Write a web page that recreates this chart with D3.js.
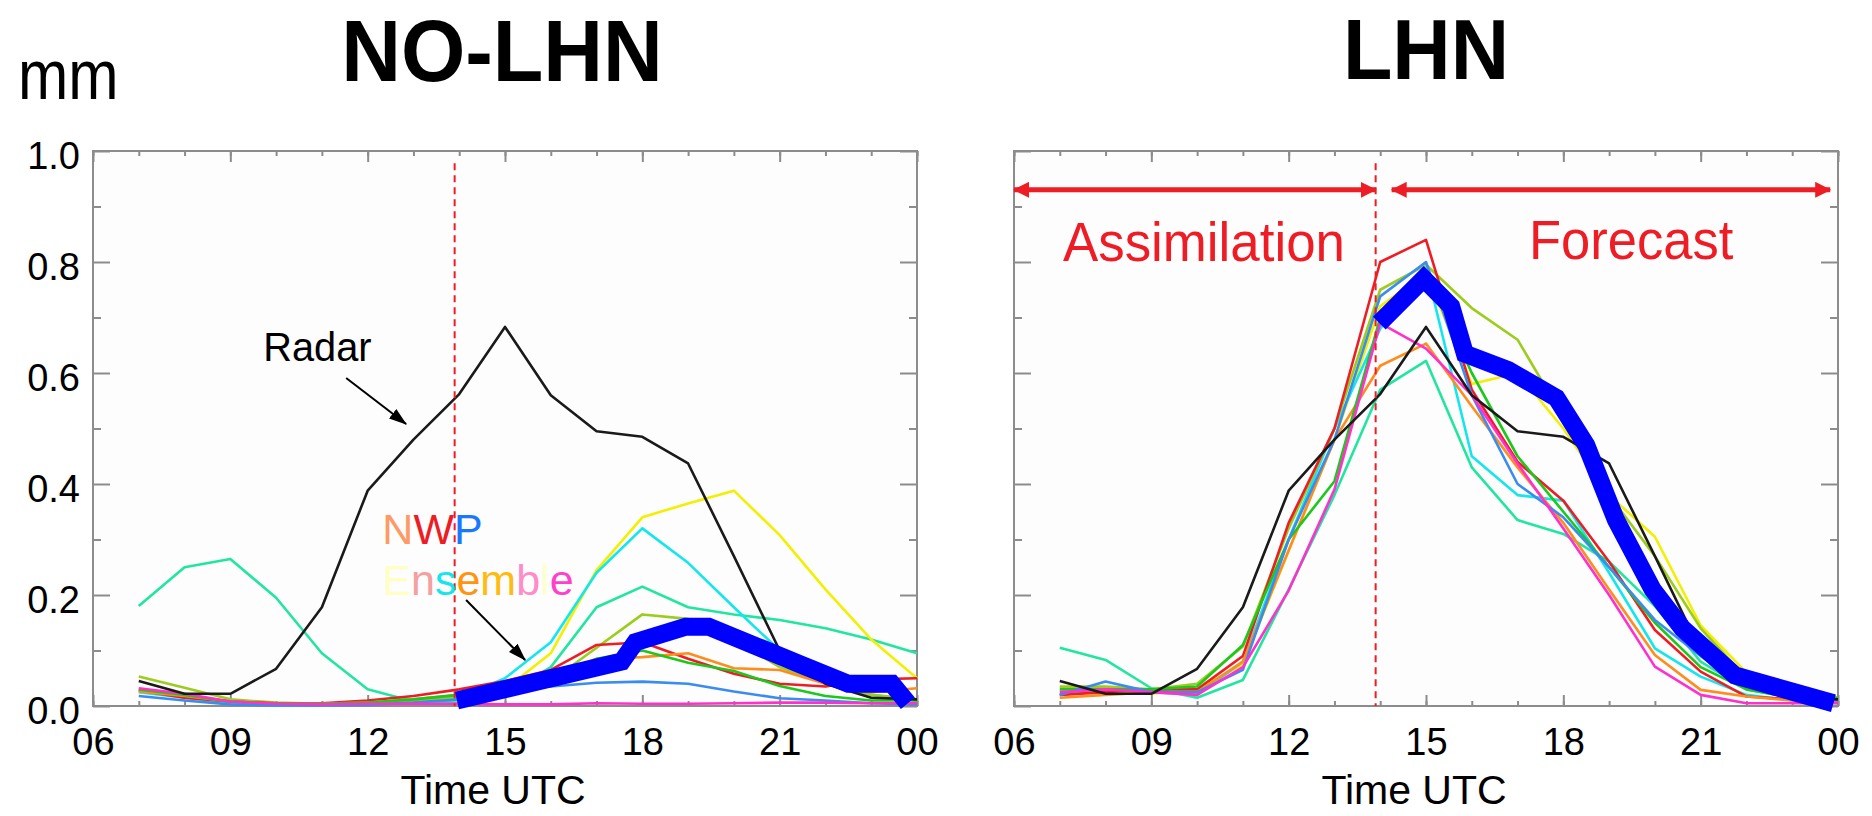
<!DOCTYPE html>
<html>
<head>
<meta charset="utf-8">
<script src="https://cdn.jsdelivr.net/npm/d3@7"></script>
<style>
html, body { margin: 0; padding: 0; background: #fff; }
svg { display: block; }
text { font-family: "Liberation Sans", Arial, sans-serif; }
</style>
</head>
<body>
<svg id="chart" width="1872" height="816"></svg>
<script>
// hourly values, 07 UTC .. 00 UTC (24)
const hours = [7, 8, 9, 10, 11, 12, 13, 14, 15, 16, 17, 18, 19, 20, 21, 22, 23, 24];
const timeTicks = [6, 9, 12, 15, 18, 21, 24];
const timeLabels = ["06", "09", "12", "15", "18", "21", "00"];
const mmTicks = [0, 0.2, 0.4, 0.6, 0.8, 1.0];
const assimEnd = 13.9;

// radar observation (same in both panels)
const radar = [0.045, 0.022, 0.022, 0.067, 0.178, 0.388, 0.48, 0.562, 0.683, 0.56, 0.495, 0.485, 0.437, 0.27, 0.1, 0.04, 0.015, 0.012];

// NO-LHN ensemble members
const noLhnSpring  = [0.18, 0.25, 0.265, 0.195, 0.095, 0.03, 0.008, 0.006, 0.02, 0.07, 0.178, 0.215, 0.178, 0.165, 0.155, 0.14, 0.12, 0.095];
const noLhnYellow  = [0.03, 0.02, 0.005, 0.003, 0.003, 0.005, 0.01, 0.02, 0.03, 0.095, 0.245, 0.34, 0.365, 0.388, 0.308, 0.21, 0.12, 0.05];
const noLhnCyan    = [0.025, 0.015, 0.005, 0.002, 0.002, 0.003, 0.008, 0.015, 0.05, 0.115, 0.24, 0.32, 0.258, 0.178, 0.1, 0.05, 0.02, 0.01];
const noLhnOlive   = [0.053, 0.033, 0.012, 0.006, 0.004, 0.004, 0.008, 0.015, 0.025, 0.045, 0.105, 0.165, 0.157, 0.12, 0.07, 0.04, 0.02, 0.012];
const noLhnRed     = [0.028, 0.015, 0.008, 0.005, 0.005, 0.01, 0.018, 0.03, 0.045, 0.065, 0.11, 0.115, 0.085, 0.058, 0.04, 0.035, 0.048, 0.05];
const noLhnOrange  = [0.026, 0.018, 0.008, 0.004, 0.004, 0.006, 0.012, 0.02, 0.035, 0.055, 0.085, 0.088, 0.095, 0.068, 0.065, 0.04, 0.025, 0.032];
const noLhnGreen   = [0.03, 0.02, 0.008, 0.004, 0.004, 0.006, 0.012, 0.02, 0.03, 0.05, 0.085, 0.1, 0.078, 0.063, 0.036, 0.018, 0.01, 0.01];
const noLhnBlue    = [0.018, 0.01, 0.003, 0.001, 0.001, 0.002, 0.006, 0.012, 0.028, 0.035, 0.042, 0.044, 0.04, 0.026, 0.014, 0.01, 0.005, 0.003];
const noLhnMagenta = [0.032, 0.022, 0.008, 0.004, 0.003, 0.004, 0.004, 0.004, 0.003, 0.003, 0.005, 0.004, 0.004, 0.005, 0.006, 0.006, 0.005, 0.005];

// LHN ensemble members
const lhnSpring  = [0.105, 0.083, 0.032, 0.015, 0.047, 0.21, 0.38, 0.57, 0.622, 0.43, 0.335, 0.31, 0.26, 0.18, 0.08, 0.03, 0.015, 0.012];
const lhnYellow  = [0.02, 0.025, 0.022, 0.03, 0.075, 0.28, 0.48, 0.72, 0.78, 0.58, 0.6, 0.5, 0.38, 0.305, 0.145, 0.06, 0.02, 0.01];
const lhnCyan    = [0.02, 0.03, 0.025, 0.02, 0.08, 0.3, 0.5, 0.68, 0.79, 0.45, 0.38, 0.37, 0.24, 0.104, 0.053, 0.02, 0.01, 0.005];
const lhnOlive   = [0.035, 0.035, 0.03, 0.04, 0.107, 0.32, 0.5, 0.75, 0.795, 0.717, 0.66, 0.52, 0.38, 0.27, 0.14, 0.05, 0.02, 0.015];
const lhnRed     = [0.02, 0.025, 0.03, 0.03, 0.09, 0.33, 0.5, 0.8, 0.84, 0.57, 0.44, 0.37, 0.26, 0.137, 0.062, 0.017, 0.012, 0.01];
const lhnOrange  = [0.015, 0.02, 0.025, 0.025, 0.08, 0.28, 0.48, 0.613, 0.653, 0.54, 0.43, 0.33, 0.21, 0.092, 0.029, 0.017, 0.01, 0.01];
const lhnGreen   = [0.03, 0.03, 0.03, 0.035, 0.11, 0.3, 0.405, 0.7, 0.78, 0.6, 0.45, 0.35, 0.25, 0.15, 0.07, 0.03, 0.015, 0.015];
const lhnBlue    = [0.02, 0.044, 0.025, 0.025, 0.065, 0.3, 0.48, 0.738, 0.8, 0.56, 0.4, 0.34, 0.25, 0.155, 0.09, 0.035, 0.015, 0.01];
const lhnMagenta = [0.025, 0.03, 0.025, 0.02, 0.07, 0.208, 0.39, 0.69, 0.644, 0.56, 0.437, 0.32, 0.2, 0.071, 0.02, 0.005, 0.005, 0.005];

// thick blue line (hand drawn, not on the hourly grid)
const noLhnThickHours  = [13.95, 17.55, 17.85, 18.95, 19.45, 21.45, 22.5, 23.45, 23.8];
const noLhnThickValues = [0.01, 0.08, 0.115, 0.143, 0.143, 0.075, 0.04, 0.04, 0.005];
const lhnThickHours  = [13.98, 14.95, 15.55, 15.85, 16.8, 17.85, 18.5, 19.15, 19.95, 20.6, 21.75, 23.9];
const lhnThickValues = [0.69, 0.77, 0.72, 0.635, 0.605, 0.555, 0.47, 0.335, 0.21, 0.14, 0.055, 0.005];

const memberColors = ["#22e6a0", "#f2f000", "#14e6ee", "#9ccc1c", "#ee1c24", "#ff8c1e", "#1cc81c", "#3a8cf0", "#ff30cc"];

var svg = d3.select("#chart");
var y = d3.scaleLinear().domain([0, 1]).range([706, 151]);

var defs = svg.append("defs");
defs.append("marker")
    .attr("id", "redHead")
    .attr("markerUnits", "userSpaceOnUse")
    .attr("viewBox", "0 0 16 16")
    .attr("markerWidth", 16).attr("markerHeight", 16)
    .attr("refX", 15).attr("refY", 8)
    .attr("orient", "auto-start-reverse")
    .append("path").attr("d", "M0,0L16,8L0,16Z").attr("fill", "#ee1c24");
defs.append("marker")
    .attr("id", "blackHead")
    .attr("markerUnits", "userSpaceOnUse")
    .attr("viewBox", "0 0 18 12")
    .attr("markerWidth", 18).attr("markerHeight", 12)
    .attr("refX", 17).attr("refY", 6)
    .attr("orient", "auto")
    .append("path").attr("d", "M0,0L18,6L0,12Z").attr("fill", "#000");

function addText(px, py, str, size, opts) {
    opts = opts || {};
    return svg.append("text")
        .attr("transform", "translate(" + px + "," + py + ") scale(" + (opts.sx || 1) + ",1)")
        .attr("text-anchor", opts.anchor || "start")
        .attr("font-size", size)
        .attr("font-weight", opts.weight || "normal")
        .attr("fill", opts.fill || "#000")
        .text(str);
}

function drawPanel(left, right, members, thickHours, thickValues, showValues) {
    var x = d3.scaleLinear().domain([6, 24]).range([left, right]);
    var g = svg.append("g");

    g.append("rect")
        .attr("x", left).attr("y", y(1))
        .attr("width", right - left).attr("height", y(0) - y(1))
        .attr("fill", "#fdfdfd")
        .attr("stroke", "#8c8c8c")
        .attr("stroke-width", 2);

    function ticks(axis, tx, ty) {
        var a = g.append("g")
            .attr("transform", "translate(" + tx + "," + ty + ")")
            .attr("color", "#8c8c8c")
            .call(axis);
        a.select(".domain").remove();
        a.selectAll(".tick line").attr("stroke-width", 2);
        a.selectAll("text").attr("fill", "#000").attr("font-size", 38);
        return a;
    }
    var hourly = d3.range(6, 25);
    var tenths = [0.1, 0.3, 0.5, 0.7, 0.9];
    ticks(d3.axisBottom(x).tickValues(hourly).tickSize(-5).tickFormat(""), 0, y(0));
    ticks(d3.axisTop(x).tickValues(hourly).tickSize(-5).tickFormat(""), 0, y(1));
    ticks(d3.axisTop(x).tickValues(timeTicks).tickSize(-11).tickFormat(""), 0, y(1));
    ticks(d3.axisBottom(x).tickValues(timeTicks).tickSize(-11).tickPadding(22)
        .tickFormat(function (d, i) { return timeLabels[i]; }), 0, y(0));
    ticks(d3.axisLeft(y).tickValues(tenths).tickSize(-8).tickFormat(""), left, 0);
    ticks(d3.axisRight(y).tickValues(tenths).tickSize(-8).tickFormat(""), right, 0);
    ticks(d3.axisRight(y).tickValues(mmTicks).tickSize(-17).tickFormat(""), right, 0);
    var yl = ticks(d3.axisLeft(y).tickValues(mmTicks).tickSize(-17).tickPadding(13)
        .tickFormat(showValues ? d3.format(".1f") : ""), left, 0);
    yl.selectAll("text").attr("dy", "0.45em");

    var line = d3.line()
        .x(function (d, i) { return x(hours[i]); })
        .y(function (d) { return y(d); });
    members.forEach(function (m, i) {
        g.append("path")
            .attr("d", line(m))
            .attr("fill", "none")
            .attr("stroke", memberColors[i])
            .attr("stroke-width", 2.6)
            .attr("stroke-linejoin", "round");
    });
    g.append("path")
        .attr("d", line(radar))
        .attr("fill", "none")
        .attr("stroke", "#1a1a1a")
        .attr("stroke-width", 2.6)
        .attr("stroke-linejoin", "round");

    g.append("line")
        .attr("x1", x(assimEnd)).attr("x2", x(assimEnd))
        .attr("y1", y(0.978)).attr("y2", y(0))
        .attr("stroke", "#ee1c24")
        .attr("stroke-width", 2)
        .attr("stroke-dasharray", "7,5");

    var thick = d3.line()
        .x(function (d, i) { return x(thickHours[i]); })
        .y(function (d) { return y(d); });
    g.append("path")
        .attr("d", thick(thickValues))
        .attr("fill", "none")
        .attr("stroke", "#0000ff")
        .attr("stroke-width", 18)
        .attr("stroke-linecap", "butt")
        .attr("stroke-linejoin", "miter")
        .attr("stroke-miterlimit", 3);

    addText((left + right) / 2 - 12, 804, "Time UTC", 41, { anchor: "middle" });
    return x;
}

var xl = drawPanel(93, 917,
    [noLhnSpring, noLhnYellow, noLhnCyan, noLhnOlive, noLhnRed, noLhnOrange, noLhnGreen, noLhnBlue, noLhnMagenta],
    noLhnThickHours, noLhnThickValues, true);
var xr = drawPanel(1014, 1838,
    [lhnSpring, lhnYellow, lhnCyan, lhnOlive, lhnRed, lhnOrange, lhnGreen, lhnBlue, lhnMagenta],
    lhnThickHours, lhnThickValues, false);

// titles
addText(18, 99, "mm", 71, { sx: 0.85 });
addText(502, 81, "NO-LHN", 88, { anchor: "middle", weight: "bold", sx: 0.94 });
addText(1426, 79, "LHN", 86, { anchor: "middle", weight: "bold", sx: 0.94 });

// left panel annotations
addText(xl(9.72), y(0.622), "Radar", 41, { sx: 0.97 });
svg.append("line")
    .attr("x1", xl(11.53)).attr("y1", y(0.591))
    .attr("x2", xl(12.84)).attr("y2", y(0.508))
    .attr("stroke", "#000").attr("stroke-width", 2)
    .attr("marker-end", "url(#blackHead)");

var nwp = svg.append("text")
    .attr("transform", "translate(" + xl(12.32) + "," + y(0.291) + ")")
    .attr("font-size", 43);
[["N", "#ff9966"], ["W", "#ee1c24"], ["P", "#1a78ff"]].forEach(function (c) {
    nwp.append("tspan").attr("fill", c[1]).text(c[0]);
});
var ens = svg.append("text")
    .attr("transform", "translate(" + xl(12.32) + "," + y(0.2) + ")")
    .attr("font-size", 43);
[["E", "#ffffc4"], ["n", "#f4a0a0"], ["s", "#14e6ee"], ["e", "#ff9410"],
 ["m", "#ffbb10"], ["b", "#ff8cc8"], ["l", "#ffffd0"], ["e", "#ff40c8"]].forEach(function (c) {
    ens.append("tspan").attr("fill", c[1]).text(c[0]);
});
svg.append("line")
    .attr("x1", xl(14.15)).attr("y1", y(0.191))
    .attr("x2", xl(15.44)).attr("y2", y(0.083))
    .attr("stroke", "#000").attr("stroke-width", 2)
    .attr("marker-end", "url(#blackHead)");

// right panel: assimilation / forecast arrows
[[6, assimEnd], [14.25, 23.83]].forEach(function (s) {
    svg.append("line")
        .attr("x1", xr(s[0])).attr("x2", xr(s[1]))
        .attr("y1", y(0.93)).attr("y2", y(0.93))
        .attr("stroke", "#ee1c24").attr("stroke-width", 5)
        .attr("marker-start", "url(#redHead)")
        .attr("marker-end", "url(#redHead)");
});
addText(xr(10.15), y(0.802), "Assimilation", 56, { anchor: "middle", fill: "#ee1c24", sx: 0.944 });
addText(xr(19.48), y(0.805), "Forecast", 55, { anchor: "middle", fill: "#ee1c24", sx: 0.955 });
</script>
</body>
</html>
